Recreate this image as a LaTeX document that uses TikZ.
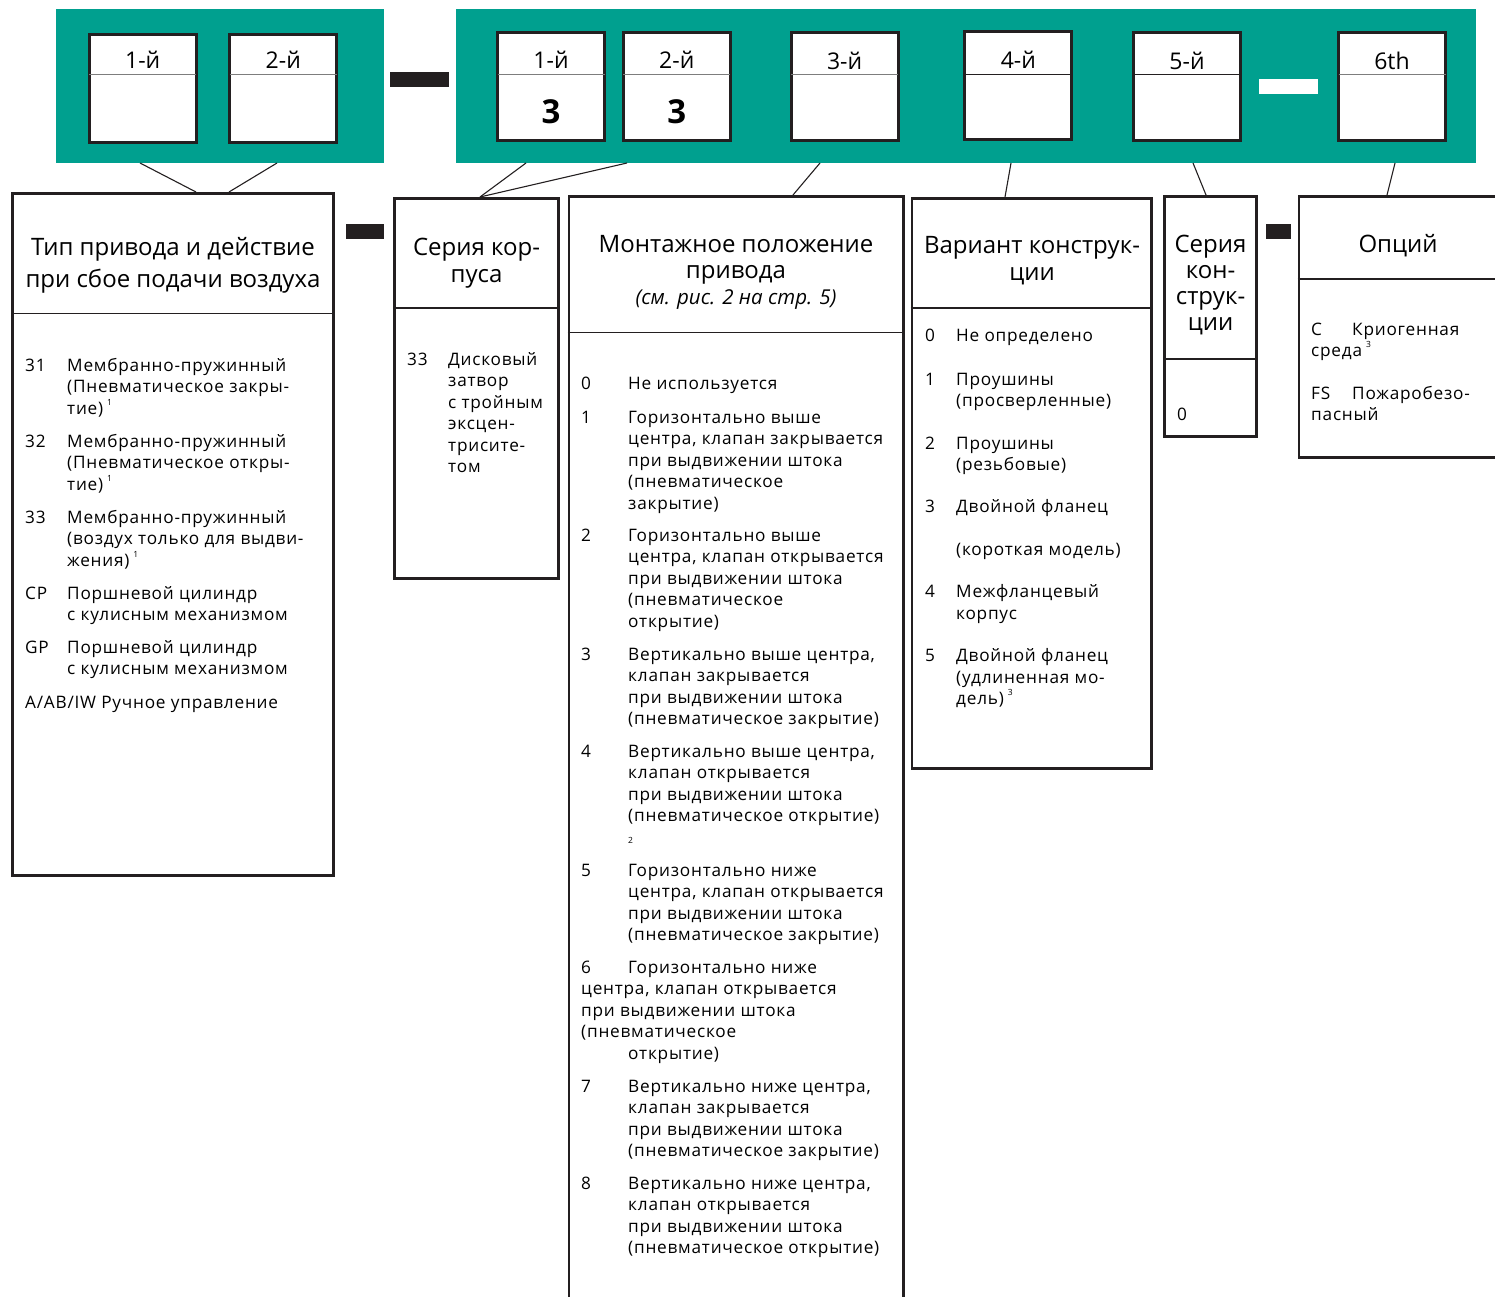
\documentclass[tikz,border=0pt]{standalone}
\usepackage{fontspec}
\setmainfont{Open Sans}
\newfontfamily\bodyfont[LetterSpace=4.5]{Open Sans}
\usepackage{tikz}
\usetikzlibrary{positioning}
\definecolor{bandgreen}{RGB}{0,160,143}
\definecolor{ink}{RGB}{35,31,32}
\definecolor{hairgray}{RGB}{125,125,125}
\newcommand{\fnm}[1]{\hspace{4pt}\raisebox{0.5em}{\fontsize{8.5}{8.5}\selectfont #1}}
\newcommand{\rows}[1]{\begin{tabular}[t]{@{}l@{}}#1\end{tabular}}
\newcommand{\crows}[1]{\begin{tabular}[t]{@{}c@{}}#1\end{tabular}}

\begin{document}
\begin{tikzpicture}
[x=1pt,y=-1pt,
band/.style={fill=bandgreen,inner sep=0pt,outer sep=0pt,anchor=north west},
cell/.style={draw=ink,line width=3pt,fill=white,inner sep=0pt,minimum width=107pt,minimum height=108pt},
hdr/.style={draw=hairgray,line width=1.4pt,shorten <=1.5pt,shorten >=1.5pt},
tag/.style={anchor=base,inner sep=0pt,font=\fontsize{23}{23}\selectfont},
digit/.style={anchor=base,inner sep=0pt,font=\fontsize{33}{33}\selectfont\bfseries},
panel/.style={draw=ink,line width=2.8pt,inner sep=0pt,anchor=north west},
rule/.style={draw=ink,line width=1.2pt},
link/.style={draw=ink,line width=1.1pt},
heading/.style={anchor=base,inner sep=0pt,font=\fontsize{24}{27}\selectfont},
nr/.style={anchor=base west,inner sep=0pt,font=\bodyfont\fontsize{17.2}{21.5}\selectfont},
txt/.style={anchor=base west,inner sep=0pt,font=\bodyfont\fontsize{17.2}{21.5}\selectfont}]
\useasboundingbox (0,0) rectangle (1495,1297);

\node[band,minimum width=328pt,minimum height=154pt] (lband) at (56,9) {};
\node[band,minimum width=1020pt,minimum height=154pt] (rband) at (456,9) {};

\node[cell] (L1) at (142.7,88.3) {};
\node[cell] (L2) at (283.3,88.3) {};
\node[cell] (R1) at (551,87) {};
\node[cell] (R2) at (676.8,87) {};
\node[cell] (R3) at (844.6,87) {};
\node[cell] (R4) at (1018.3,86) {};
\node[cell] (R5) at (1187,87) {};
\node[cell] (R6) at (1392,87) {};

\draw[hdr] (L1.west |- 0,74.3) -- (L1.east |- 0,74.3);
\draw[hdr] (L2.west |- 0,74.3) -- (L2.east |- 0,74.3);
\draw[hdr] (R1.west |- 0,74.5) -- (R1.east |- 0,74.5);
\draw[hdr] (R2.west |- 0,74.5) -- (R2.east |- 0,74.5);
\draw[hdr] (R3.west |- 0,74.5) -- (R3.east |- 0,74.5);
\draw[hdr,draw=ink] (R4.west |- 0,74.3) -- (R4.east |- 0,74.3);
\draw[hdr,draw=ink] (R5.west |- 0,74.5) -- (R5.east |- 0,74.5);
\draw[hdr] (R6.west |- 0,74.5) -- (R6.east |- 0,74.5);

\node[tag] (L1t) at (142.7,68.3) {1-й};
\node[tag] (L2t) at (283.3,68.3) {2-й};
\node[tag] (R1t) at (551,68.5) {1-й};
\node[tag] (R2t) at (676.8,68.5) {2-й};
\node[tag] (R3t) at (844.6,70) {3-й};
\node[tag] (R4t) at (1018.3,68.5) {4-й};
\node[tag] (R5t) at (1187,70) {5-й};
\node[tag] (R6t) at (1392,70) {6th};
\node[digit] (R1d) at (551,124) {3};
\node[digit] (R2d) at (676.8,124) {3};

\fill[ink] (390,72) rectangle (449,87);
\fill[white] (1259,79) rectangle (1318,94);
\fill[ink] (346,224) rectangle (384,239);
\fill[ink] (1266,224) rectangle (1291,239);

\node[panel,minimum width=321pt,minimum height=682pt] (typ) at (11,192) {};
\node[panel,minimum width=164pt,minimum height=380pt] (ser) at (393,197) {};
\node[panel,minimum width=334.5pt,minimum height=1140pt] (mnt) at (567.5,195) {};
\node[panel,minimum width=239.5pt,minimum height=570pt] (var) at (910.5,197) {};
\node[panel,minimum width=92pt,minimum height=240pt] (kon) at (1163,195) {};
\node[panel,minimum width=220pt,minimum height=261pt] (opt) at (1297.5,195) {};

\draw[rule] (typ.west |- 0,313.5) -- (typ.east |- 0,313.5);
\draw[rule] (ser.west |- 0,308) -- (ser.east |- 0,308);
\draw[rule] (mnt.west |- 0,332.5) -- (mnt.east |- 0,332.5);
\draw[rule] (var.west |- 0,308) -- (var.east |- 0,308);
\draw[rule] (kon.west |- 0,359) -- (kon.east |- 0,359);
\draw[rule] (opt.west |- 0,279) -- (opt.east |- 0,279);

\draw[link] ([xshift=84pt]lband.south west) -- ([xshift=185pt]typ.north west);
\draw[link] ([xshift=221pt]lband.south west) -- ([xshift=218pt]typ.north west);
\draw[link] ([xshift=70pt]rband.south west) -- ([xshift=87pt]ser.north west);
\draw[link] ([xshift=171pt]rband.south west) -- ([xshift=87pt]ser.north west);
\draw[link] ([xshift=364pt]rband.south west) -- ([xshift=225.5pt]mnt.north west);
\draw[link] ([xshift=555pt]rband.south west) -- ([xshift=94.5pt]var.north west);
\draw[link] ([xshift=737pt]rband.south west) -- ([xshift=43pt]kon.north west);
\draw[link] ([xshift=939pt]rband.south west) -- ([xshift=89.5pt]opt.north west);

\node[heading,font=\fontsize{24}{32}\selectfont] (typh) at (173,255) {\crows{Тип привода и действие\\при сбое подачи воздуха}};
\node[heading] (serh) at (476.5,255) {\crows{Серия кор-\\пуса}};
\node[heading,font=\fontsize{24}{26.5}\selectfont] (mnth) at (736,252) {\crows{Монтажное положение\\привода}};
\node[anchor=base,inner sep=0pt,font=\fontsize{20.5}{20.5}\selectfont\itshape] (mnts) at (736,304) {(см. рис. 2 на стр. 5)};
\node[heading,font=\fontsize{24}{27.5}\selectfont] (varh) at (1032,253) {\crows{Вариант конструк-\\ции}};
\node[heading,font=\fontsize{24}{26.3}\selectfont] (konh) at (1210.5,252) {\crows{Серия\\кон-\\струк-\\ции}};
\node[heading] (opth) at (1398,252) {Опций};

\node[nr] (t31) at (25,371) {31};
\node[txt] (t31x) at (67,371) {\rows{Мембранно-пружинный\\(Пневматическое закры-\\тие)\fnm{1}}};
\node[nr] (t32) at (25,447) {32};
\node[txt] (t32x) at (67,447) {\rows{Мембранно-пружинный\\(Пневматическое откры-\\тие)\fnm{1}}};
\node[nr] (t33) at (25,523) {33};
\node[txt] (t33x) at (67,523) {\rows{Мембранно-пружинный\\(воздух только для выдви-\\жения)\fnm{1}}};
\node[nr] (tcp) at (25,599) {CP};
\node[txt] (tcpx) at (67,599) {\rows{Поршневой цилиндр\\с кулисным механизмом}};
\node[nr] (tgp) at (25,653) {GP};
\node[txt] (tgpx) at (67,653) {\rows{Поршневой цилиндр\\с кулисным механизмом}};
\node[nr] (tab) at (25,708) {A/AB/IW Ручное управление};

\node[nr] (s33) at (407,365) {33};
\node[txt] (s33x) at (448,365) {\rows{Дисковый\\затвор\\с тройным\\эксцен-\\трисите-\\том}};

\node[nr] (m0) at (581,389) {0};
\node[txt] (m0x) at (628,389) {Не используется};
\node[nr] (m1) at (581,423) {1};
\node[txt] (m1x) at (628,423) {\rows{Горизонтально выше\\центра, клапан закрывается\\при выдвижении штока\\(пневматическое\\закрытие)}};
\node[nr] (m2) at (581,541) {2};
\node[txt] (m2x) at (628,541) {\rows{Горизонтально выше\\центра, клапан открывается\\при выдвижении штока\\(пневматическое\\открытие)}};
\node[nr] (m3) at (581,660) {3};
\node[txt] (m3x) at (628,660) {\rows{Вертикально выше центра,\\клапан закрывается\\при выдвижении штока\\(пневматическое закрытие)}};
\node[nr] (m4) at (581,757) {4};
\node[txt] (m4x) at (628,757) {\rows{Вертикально выше центра,\\клапан открывается\\при выдвижении штока\\(пневматическое открытие)\\{\fontsize{8.5}{8.5}\selectfont 2}}};
\node[nr] (m5) at (581,876) {5};
\node[txt] (m5x) at (628,876) {\rows{Горизонтально ниже\\центра, клапан открывается\\при выдвижении штока\\(пневматическое закрытие)}};
\node[txt] (m6) at (581,973) {\rows{\makebox[47pt][l]{6}Горизонтально ниже\\центра, клапан открывается\\при выдвижении штока\\(пневматическое\\\hspace*{47pt}открытие)}};
\node[nr] (m7) at (581,1092) {7};
\node[txt] (m7x) at (628,1092) {\rows{Вертикально ниже центра,\\клапан закрывается\\при выдвижении штока\\(пневматическое закрытие)}};
\node[nr] (m8) at (581,1189) {8};
\node[txt] (m8x) at (628,1189) {\rows{Вертикально ниже центра,\\клапан открывается\\при выдвижении штока\\(пневматическое открытие)}};

\node[nr] (v0) at (925,341) {0};
\node[txt] (v0x) at (956,341) {Не определено};
\node[nr] (v1) at (925,385) {1};
\node[txt] (v1x) at (956,385) {\rows{Проушины\\(просверленные)}};
\node[nr] (v2) at (925,449) {2};
\node[txt] (v2x) at (956,449) {\rows{Проушины\\(резьбовые)}};
\node[nr] (v3) at (925,512.5) {3};
\node[txt] (v3x) at (956,512.5) {Двойной фланец};
\node[txt] (v3y) at (956,555) {(короткая модель)};
\node[nr] (v4) at (925,597.5) {4};
\node[txt] (v4x) at (956,597.5) {\rows{Межфланцевый\\корпус}};
\node[nr] (v5) at (925,661.5) {5};
\node[txt] (v5x) at (956,661.5) {\rows{Двойной фланец\\(удлиненная мо-\\дель)\fnm{3}}};

\node[nr] (k0) at (1177,420.5) {0};

\node[txt] (oc) at (1311,335) {\rows{\makebox[41pt][l]{C}Криогенная\\среда\fnm{3}}};
\node[txt] (ofs) at (1311,399) {\rows{\makebox[41pt][l]{FS}Пожаробезо-\\пасный}};
\end{tikzpicture}
\end{document}
